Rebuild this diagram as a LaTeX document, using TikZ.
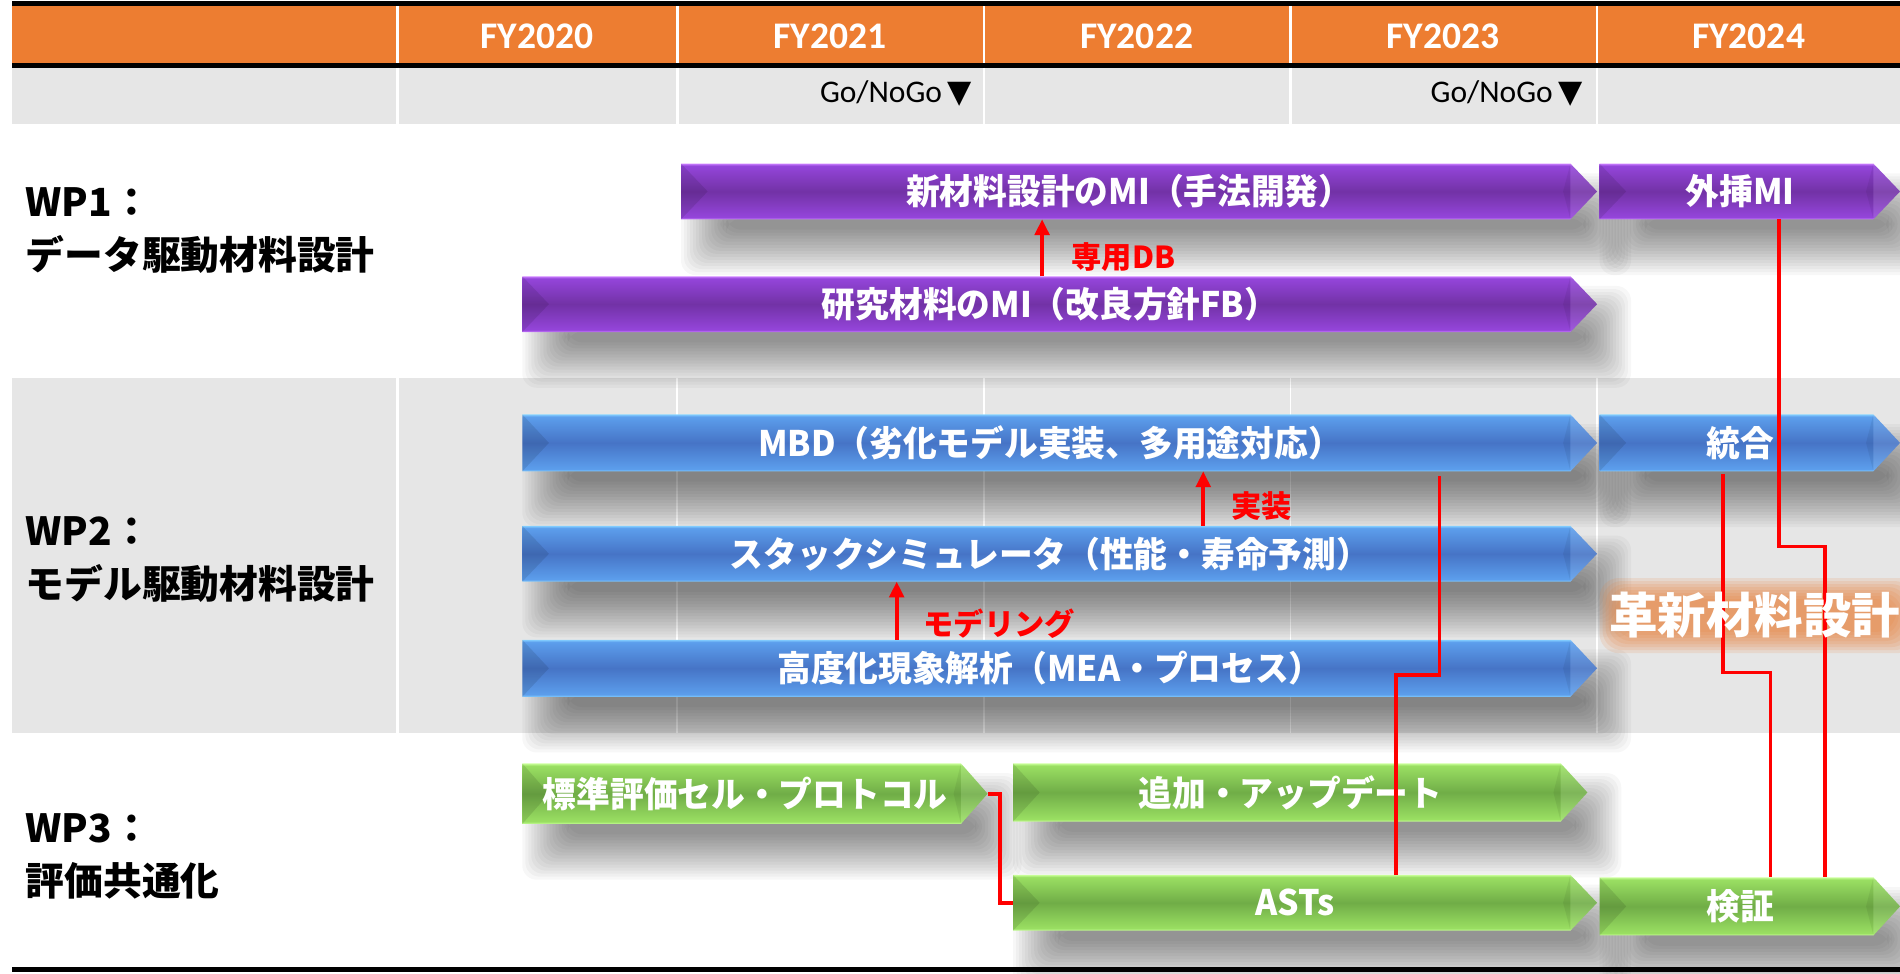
\documentclass[tikz,border=0pt]{standalone}
\usepackage{fontspec}
\setmainfont{Noto Sans CJK JP}
\newfontfamily\barfont[FakeStretch=0.96]{Noto Sans CJK JP}
\newfontfamily\calfont{Carlito}
\newfontfamily\dvfont{DejaVu Sans}
\usetikzlibrary{arrows.meta}
\pgfdeclarelayer{bg}
\pgfdeclarelayer{shl}
\pgfsetlayers{bg,shl,main}
\definecolor{hdrorange}{HTML}{ED7D31}
\definecolor{rowgray}{HTML}{E6E6E6}
\definecolor{pL}{HTML}{C97CFF}
\definecolor{pU}{HTML}{9445DA}
\definecolor{pM}{HTML}{7232A6}
\definecolor{bL}{HTML}{82CDFF}
\definecolor{bU}{HTML}{5C9EEC}
\definecolor{bM}{HTML}{4674C6}
\definecolor{gL}{HTML}{C8FF98}
\definecolor{gU}{HTML}{9ADF62}
\definecolor{gM}{HTML}{70AD47}
\definecolor{glowc}{HTML}{E8803A}
\pgfdeclareverticalshading{purpshade}{100bp}{color(0bp)=(pL); color(25bp)=(pL); color(27bp)=(pU); color(50bp)=(pM); color(73bp)=(pU); color(75bp)=(pL); color(100bp)=(pL)}
\pgfdeclareverticalshading{blueshade}{100bp}{color(0bp)=(bL); color(25bp)=(bL); color(27bp)=(bU); color(50bp)=(bM); color(73bp)=(bU); color(75bp)=(bL); color(100bp)=(bL)}
\pgfdeclareverticalshading{greenshade}{100bp}{color(0bp)=(gL); color(25bp)=(gL); color(27bp)=(gU); color(50bp)=(gM); color(73bp)=(gU); color(75bp)=(gL); color(100bp)=(gL)}
\tikzset{
  bartext/.style={text=white,inner sep=0pt,font=\barfont\bfseries\fontsize{29}{32}\selectfont},
  barbox/.style={inner sep=0pt,outer sep=0pt,draw=none},
  hdrtext/.style={text=white,inner sep=0pt,font=\calfont\bfseries\fontsize{31}{34}\selectfont},
  gonogo/.style={text=black,inner sep=0pt,font=\calfont\fontsize{26}{28}\selectfont},
  wplabel/.style={text=black,inner sep=0pt,align=left,font=\bfseries\fontsize{32}{44}\selectfont},
  redlabel/.style={text=red,inner sep=0pt,font=\bfseries\fontsize{25}{28}\selectfont},
  redline/.style={red,line width=3pt},
  redarr/.style={red,line width=3pt,-{Triangle[width=12pt,length=13pt]}},
  sepline/.style={white,line width=2pt},
}
\newcommand\mkbar[7]{%
  \begin{pgfonlayer}{shl}
    \foreach \k in {0,...,15}{\fill[black,opacity=.032,rounded corners=12pt] ({#2+20-20+2.5*\k},{#3+28-20+2.5*\k}) rectangle ({#4+8+20-2.5*\k},{#5+26+20-2.5*\k});}
  \end{pgfonlayer}
  \shade[shading=#6] (#2,#3) -- ({#4-22},#3) -- (#4,{(#3+#5)/2}) -- ({#4-22},#5) -- (#2,#5) -- cycle;
  \fill[black,opacity=.10] (#2,#3) -- ({#2+22},{(#3+#5)/2}) -- (#2,#5) -- cycle;
  \fill[black,opacity=.06] ({#4-22},#3) -- ({#4-28},{(#3+#5)/2}) -- ({#4-22},#5) -- cycle;
  \fill[white,opacity=.10] ({#4-22},#3) -- (#4,{(#3+#5)/2}) -- ({#4-22},#5) -- cycle;
  \path ({(#2+#4)/2},{(#3+#5)/2}) node[barbox,minimum width={#4-#2},minimum height={#5-#3}] (#1) {};
  \node[bartext] (#1t) at ({(#2+#4-22)/2+3},{(#3+#5)/2}) {#7};
}
\begin{document}
\begin{tikzpicture}[x=1pt,y=-1pt]
\useasboundingbox (0,0) rectangle (1568,803);
\begin{pgfonlayer}{bg}
  \fill[white] (0,0) rectangle (1568,803);
  % header
  \fill[black] (10,1) rectangle (1568,5);
  \fill[hdrorange] (10,5) rectangle (1568,52);
  \fill[black] (10,52) rectangle (1568,56);
  \fill[rowgray] (10,56) rectangle (1568,102);
  \foreach \x in {328,559,812,1065,1318}{
    \draw[sepline] (\x,5) -- (\x,52);
    \draw[sepline] (\x,56) -- (\x,102);
  }
  % WP2 band
  \fill[rowgray] (10,312) rectangle (1568,605);
  \draw[white,line width=3pt] (328,312) -- (328,605);
  \foreach \x in {559,812,1065,1318}{
    \draw[white,line width=1.5pt] (\x,312) -- (\x,605);
  }
  % bottom rule
  \fill[black] (10,798) rectangle (1568,802);
\end{pgfonlayer}

% header texts
\node[hdrtext] (fy20) at (443,30) {FY2020};
\node[hdrtext] (fy21) at (685,30) {FY2021};
\node[hdrtext] (fy22) at (938,30) {FY2022};
\node[hdrtext] (fy23) at (1191,30) {FY2023};
\node[hdrtext] (fy24) at (1443,30) {FY2024};
\node[gonogo,anchor=east] (gng1) at (802,77) {Go/NoGo\,{\dvfont ▼}};
\node[gonogo,anchor=east] (gng2) at (1306,77) {Go/NoGo\,{\dvfont ▼}};

% WP labels
\node[wplabel,anchor=west] (wp1) at (21,190) {WP1：\\データ駆動材料設計};
\node[wplabel,anchor=west] (wp2) at (21,462) {WP2：\\モデル駆動材料設計};
\node[wplabel,anchor=west] (wp3) at (21,707) {WP3：\\評価共通化};

% WP1 bars
\mkbar{newmi}{562}{135}{1318}{181}{purpshade}{新材料設計のMI（手法開発）}
\mkbar{exmi}{1320}{135}{1568}{181}{purpshade}{外挿MI}
\mkbar{res}{431}{228}{1318}{274}{purpshade}{研究材料のMI（改良方針FB）}
% WP2 bars
\mkbar{mbd}{431}{342}{1318}{389}{blueshade}{MBD（劣化モデル実装、多用途対応）}
\mkbar{integ}{1320}{342}{1568}{389}{blueshade}{統合}
\mkbar{stack}{431}{434}{1318}{480}{blueshade}{スタックシミュレータ（性能・寿命予測）}
\mkbar{adv}{431}{528}{1318}{575}{blueshade}{高度化現象解析（MEA・プロセス）}
% WP3 bars
\mkbar{std}{431}{630}{815}{680}{greenshade}{標準評価セル・プロトコル}
\mkbar{upd}{836}{630}{1310}{678}{greenshade}{追加・アップデート}
\mkbar{ast}{836}{722}{1318}{768}{greenshade}{ASTs}
\mkbar{ver}{1320}{724}{1568}{772}{greenshade}{検証}

% glow behind the big label
\foreach \k in {0,...,7}{\fill[glowc,opacity=.14,rounded corners=16pt] ({1320+2.5*\k},{477+2.5*\k}) rectangle ({1582-2.5*\k},{539-2.5*\k});}

% red arrows
\draw[redarr] (res.north -| 860,0) -- (newmi.south -| 860,0);
\node[redlabel,anchor=west] (dblab) at (884,212) {専用DB};
\draw[redarr] (stack.north -| 993,0) -- (mbd.south -| 993,0);
\node[redlabel,anchor=west] (implab) at (1016,418) {実装};
\draw[redarr] (adv.north -| 740,0) -- (stack.south -| 740,0);
\node[redlabel,anchor=west] (modlab) at (762,515) {モデリング};

% red connectors
\draw[redline] (std.east) -- ++(10,0) |- (ast.west);
\draw[redline] (mbd.south -| 1188,0) ++(0,4) |- (1152,557) -- (ast.north -| 1152,0);
\draw[redline] (integ.south -| 1422,0) ++(0,2) |- (1461,555) -- (ver.north -| 1461,0);
\draw[redline] (exmi.south -| 1468,0) |- (1506,451) -- (ver.north -| 1506,0);

% big label
\node[text=white,inner sep=0pt,font=\bfseries\fontsize{40}{44}\selectfont] (inno) at (1448,508) {革新材料設計};
\end{tikzpicture}
\end{document}
